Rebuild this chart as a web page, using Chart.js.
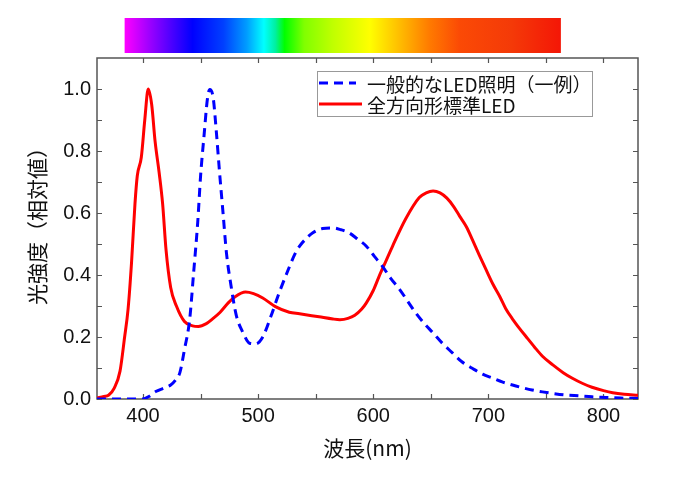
<!DOCTYPE html>
<html>
<head>
<meta charset="utf-8">
<script src="https://cdn.jsdelivr.net/npm/chart.js@4"></script>
<style>
  body { margin: 0; background: #fff; }
</style>
</head>
<body>
<canvas id="spectrum" width="676" height="477"></canvas>
<script>
// 一般的なLED照明（一例） - wavelength (nm) / relative intensity
const generalWl = [360, 400, 405, 411, 418, 424, 428, 432, 436, 440.5, 444, 447.5, 450, 453, 456, 458, 461, 463.5, 466.5, 469.5, 472.5, 476.5, 481, 487, 492.5, 498, 504, 511, 518.5, 527, 532, 536, 541, 547.5, 556, 565, 572, 579, 586, 594, 601, 608, 615, 623, 630, 637, 644, 652, 660, 669, 677, 686, 695, 704, 712, 721, 730, 738, 747, 756, 767, 779, 790, 802, 815, 830]
const generalVal = [0, 0, 0.008, 0.024, 0.035, 0.045, 0.06, 0.085, 0.16, 0.256, 0.41, 0.57, 0.72, 0.85, 0.97, 0.998, 0.97, 0.87, 0.73, 0.6, 0.47, 0.364, 0.27, 0.213, 0.18, 0.178, 0.2, 0.266, 0.345, 0.425, 0.468, 0.493, 0.515, 0.536, 0.55, 0.552, 0.546, 0.536, 0.517, 0.493, 0.46, 0.428, 0.39, 0.353, 0.315, 0.277, 0.245, 0.213, 0.18, 0.148, 0.12, 0.099, 0.08, 0.067, 0.055, 0.045, 0.036, 0.029, 0.023, 0.018, 0.013, 0.01, 0.007, 0.005, 0.003, 0.002]

// 全方向形標準LED
const standardWl = [360, 366, 370, 375, 380, 384, 387, 390, 393, 395, 398.5, 401.5, 404.5, 407.5, 410.5, 414, 417, 420, 424, 429, 436, 443, 448, 455, 460, 467, 474, 480, 489, 496, 504, 515, 527, 536, 553, 565, 571, 578, 584, 590, 594, 600, 605, 611, 617, 628, 640, 646, 652, 658, 664, 670, 675, 681, 686, 692, 698, 704, 710, 715, 721, 727, 733, 740, 747, 756, 765, 773, 782, 790, 800, 808, 818, 830]
const standardVal = [0.003, 0.008, 0.012, 0.035, 0.09, 0.2, 0.29, 0.44, 0.63, 0.72, 0.78, 0.9, 1.0, 0.95, 0.83, 0.73, 0.63, 0.48, 0.36, 0.3, 0.25, 0.236, 0.234, 0.243, 0.257, 0.28, 0.31, 0.33, 0.345, 0.34, 0.326, 0.298, 0.28, 0.275, 0.265, 0.258, 0.256, 0.26, 0.27, 0.29, 0.31, 0.35, 0.395, 0.445, 0.495, 0.58, 0.65, 0.665, 0.671, 0.665, 0.648, 0.62, 0.59, 0.555, 0.515, 0.465, 0.417, 0.37, 0.33, 0.292, 0.258, 0.228, 0.2, 0.168, 0.138, 0.11, 0.085, 0.067, 0.05, 0.038, 0.027, 0.02, 0.015, 0.012]

const seriesNames = ['一般的なLED照明（一例）', '全方向形標準LED']
const xTicks = [400, 500, 600, 700, 800]
const xMinorTicks = [400, 450, 500, 550, 600, 650, 700, 750, 800]
const yTicks = [0, 0.2, 0.4, 0.6, 0.8, 1.0]
const yMinorTicks = [0, 0.1, 0.2, 0.3, 0.4, 0.5, 0.6, 0.7, 0.8, 0.9, 1.0]
const xTitle = '波長(nm)'
const yTitle = '光強度（相対値）'

const numFont = '"Liberation Sans", Arial, sans-serif'
const jpFont = '"Noto Sans CJK JP", sans-serif'

// rainbow bar above the plot
const rainbowBar = {
  id: 'rainbowBar',
  beforeDraw(chart) {
    const ctx = chart.ctx
    const xs = chart.scales.x
    const stops = [
      [384, '#ff00ff'], [405, '#a000ff'], [425, '#4a00ff'], [443, '#0000ff'],
      [470, '#0040ff'], [490, '#009cff'], [505, '#00ffff'], [515, '#00f0a0'],
      [523, '#00ff00'], [540, '#80ff00'], [565, '#c0ff00'], [597, '#ffff00'],
      [620, '#ffc400'], [649, '#ff7a00'], [675, '#fb4a05'], [720, '#f43a08'], [763, '#f41606']
    ]
    const x0 = xs.getPixelForValue(384)
    const x1 = xs.getPixelForValue(763)
    const g = ctx.createLinearGradient(x0, 0, x1, 0)
    stops.forEach(s => g.addColorStop((s[0] - 384) / (763 - 384), s[1]))
    ctx.save()
    ctx.fillStyle = g
    ctx.fillRect(x0, 18, x1 - x0, 35)
    ctx.restore()
  }
}

// box frame + inward ticks on every side
const frameTicks = {
  id: 'frameTicks',
  beforeDatasetsDraw(chart) {
    const {ctx, chartArea: a, scales: {x, y}} = chart
    ctx.save()
    ctx.strokeStyle = '#555'
    ctx.lineWidth = 1.5
    ctx.strokeRect(a.left, a.top, a.right - a.left, a.bottom - a.top)
    ctx.lineWidth = 1.2
    ctx.beginPath()
    xMinorTicks.forEach(v => {
      const px = Math.round(x.getPixelForValue(v)) + 0.5
      ctx.moveTo(px, a.bottom); ctx.lineTo(px, a.bottom - 5)
      ctx.moveTo(px, a.top); ctx.lineTo(px, a.top + 5)
    })
    yMinorTicks.forEach(v => {
      const py = Math.round(y.getPixelForValue(v)) + 0.5
      ctx.moveTo(a.left, py); ctx.lineTo(a.left + 5, py)
      ctx.moveTo(a.right, py); ctx.lineTo(a.right - 5, py)
    })
    ctx.stroke()
    ctx.restore()
  }
}

const extras = {
  id: 'extras',
  afterDraw(chart) {
    const ctx = chart.ctx
    const sets = chart.data.datasets
    ctx.save()
    // y title
    ctx.translate(37, 221)
    ctx.rotate(-Math.PI / 2)
    ctx.fillStyle = '#111'
    ctx.font = '21px ' + jpFont
    ctx.textAlign = 'center'
    ctx.textBaseline = 'middle'
    ctx.fillText(yTitle, 0, 0)
    ctx.restore()

    // legend
    ctx.save()
    ctx.fillStyle = '#fff'
    ctx.fillRect(317, 71, 276, 46)
    ctx.strokeStyle = '#999'
    ctx.lineWidth = 1
    ctx.strokeRect(317.5, 71.5, 275, 45)
    const rows = [83, 104]
    sets.forEach((ds, i) => {
      ctx.beginPath()
      ctx.strokeStyle = ds.borderColor
      ctx.lineWidth = ds.borderWidth
      ctx.setLineDash(ds.borderDash || [])
      ctx.moveTo(319, rows[i])
      ctx.lineTo(i === 0 ? 356 : 362, rows[i])
      ctx.stroke()
      ctx.setLineDash([])
      ctx.fillStyle = '#111'
      ctx.font = '19px ' + jpFont
      ctx.textBaseline = 'middle'
      ctx.fillText(ds.label, 367, rows[i] + 2)
    })
    ctx.restore()
  }
}

new Chart(document.getElementById('spectrum'), {
  type: 'line',
  data: {
    datasets: [
      {
        label: seriesNames[0],
        data: generalWl.map((w, i) => ({x: w, y: generalVal[i]})),
        borderColor: 'rgb(0, 0, 255)',
        borderWidth: 3,
        borderDash: [9, 6],
        pointRadius: 0,
        cubicInterpolationMode: 'monotone',
        fill: false
      },
      {
        label: seriesNames[1],
        data: standardWl.map((w, i) => ({x: w, y: standardVal[i]})),
        borderColor: 'rgb(255, 0, 0)',
        borderWidth: 3,
        pointRadius: 0,
        cubicInterpolationMode: 'monotone',
        fill: false
      }
    ]
  },
  options: {
    responsive: false,
    animation: false,
    devicePixelRatio: 1,
    layout: { padding: { left: 0, top: 58, right: 38, bottom: 0 } },
    plugins: {
      legend: { display: false },
      tooltip: { enabled: false }
    },
    scales: {
      x: {
        type: 'linear',
        min: 360,
        max: 830,
        afterBuildTicks: s => { s.ticks = xTicks.map(v => ({value: v})) },
        afterFit: s => { s.height = 78 },
        grid: { display: false, drawTicks: false },
        border: { display: false },
        ticks: { font: { family: numFont, size: 20 }, color: '#111', padding: 5, maxRotation: 0 },
        title: { display: true, text: xTitle, color: '#111', font: { family: jpFont, size: 21 }, padding: { top: 0, bottom: 16 } }
      },
      y: {
        min: 0,
        max: 1.1,
        afterBuildTicks: s => { s.ticks = yTicks.map(v => ({value: v})) },
        afterFit: s => { s.width = 97 },
        grid: { display: false, drawTicks: false },
        border: { display: false },
        ticks: { font: { family: numFont, size: 20 }, color: '#111', padding: 6, callback: v => v.toFixed(1) }
      }
    }
  },
  plugins: [rainbowBar, frameTicks, extras]
})
</script>
</body>
</html>
